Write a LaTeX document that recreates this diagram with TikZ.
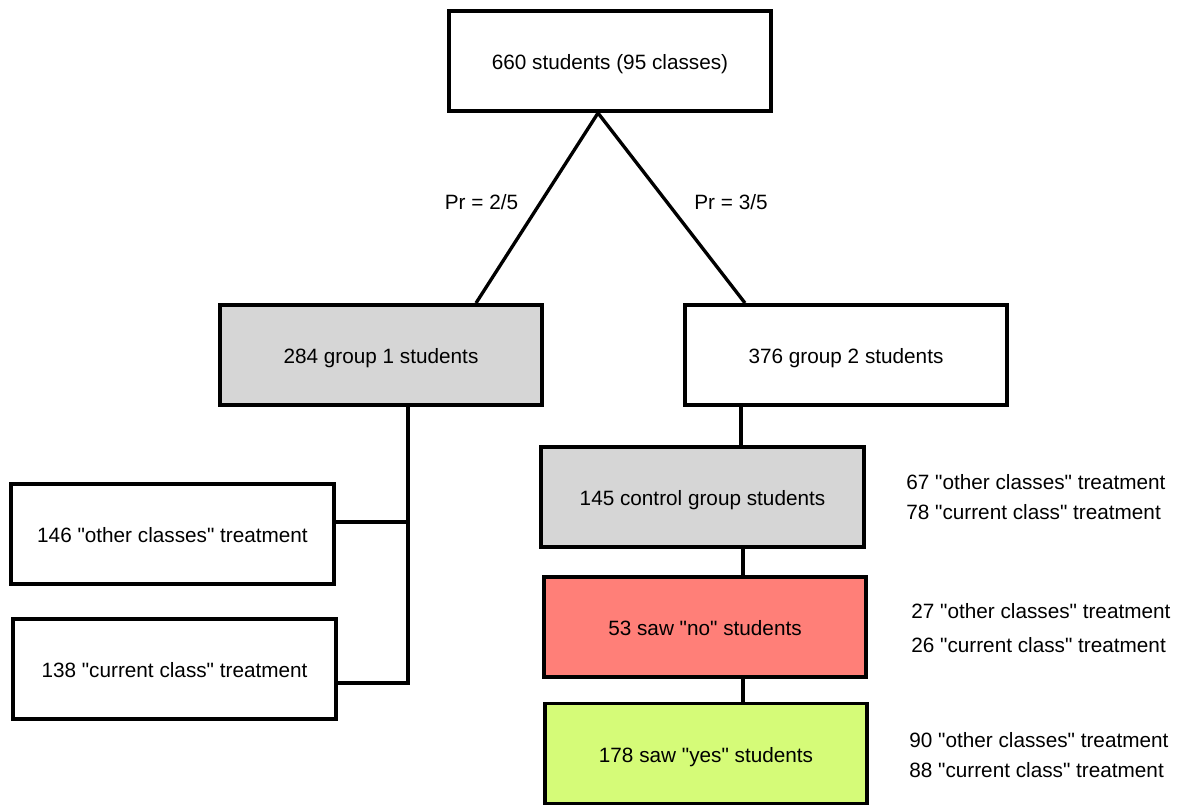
\documentclass[tikz,border=0pt]{standalone}
\usepackage{fontspec}
\setmainfont{Liberation Sans}
\usetikzlibrary{calc}
\definecolor{boxgray}{HTML}{D6D6D6}
\definecolor{norose}{HTML}{FF7F78}
\definecolor{yeslime}{HTML}{D5FB78}
\newcommand{\qt}[1]{\textquotedbl#1\textquotedbl}
\tikzset{
    gbox/.style={draw, line width=2.2pt, minimum width=6.45cm, minimum height=2.0cm,
        text height=1em, text depth=0pt, font=\fontsize{11.8}{14}\selectfont},
    link/.style={line width=1.9pt},
    sidetxt/.style={anchor=west, align=left, inner sep=0pt,
        font=\fontsize{11.8}{17}\selectfont}
}
\begin{document}
\begin{tikzpicture}
    \useasboundingbox (0,0) rectangle (23.72,-16.1);
    % Top box
    \node[gbox] (top) at (12.2,-1.22) {660 students (95 classes)};
    % Groups
    \node[gbox, fill=boxgray] (grpone) at (7.62,-7.10) {284 group 1 students};
    \node[gbox] (grptwo) at (16.92,-7.10) {376 group 2 students};
    % Group 2 chain
    \node[gbox, fill=boxgray] (ctrl) at (14.05,-9.94) {145 control group students};
    \node[gbox, fill=norose] (sawno) at (14.10,-12.54) {53 saw \qt{no} students};
    \node[gbox, fill=yeslime] (sawyes) at (14.12,-15.07) {178 saw \qt{yes} students};
    % Group 1 treatments
    \node[gbox] (other) at (3.45,-10.68) {146 \qt{other classes} treatment};
    \node[gbox] (current) at (3.49,-13.38) {138 \qt{current class} treatment};

    % Split with probabilities
    \coordinate (apex) at (11.96,-2.26);
    \draw[link] (apex) -- (9.52,0 |- grpone.north);
    \draw[link] (apex) -- (14.90,0 |- grptwo.north);
    \node[font=\fontsize{11.8}{14}\selectfont] (prone) at (9.63,-4.04) {Pr = 2/5};
    \node[font=\fontsize{11.8}{14}\selectfont] (prtwo) at (14.62,-4.04) {Pr = 3/5};

    % Group 1 branches
    \coordinate (jo) at (8.16,-10.44); \coordinate (jc) at (8.16,-13.66);
    \draw[link] (8.16,0 |- grpone.south) -- (jc) -- (current.east |- jc);
    \draw[link] (jo) -- (other.east |- jo);

    % Group 2 links
    \draw[link] (14.82,0 |- grptwo.south) -- (14.82,0 |- ctrl.north);
    \draw[link] (14.86,0 |- ctrl.south) -- (14.86,0 |- sawno.north);
    \draw[link] (14.86,0 |- sawno.south) -- (14.86,0 |- sawyes.north);

    % Split of each box
    \node[sidetxt] (ctrlsplit) at (18.12,-9.94)
        {67 \qt{other classes} treatment\\78 \qt{current class} treatment};
    \node[sidetxt] (nosplit) at (18.22,-12.56)
        {27 \qt{other classes} treatment\\[2.4pt]26 \qt{current class} treatment};
    \node[sidetxt] (yessplit) at (18.18,-15.11)
        {90 \qt{other classes} treatment\\88 \qt{current class} treatment};
\end{tikzpicture}
\end{document}
